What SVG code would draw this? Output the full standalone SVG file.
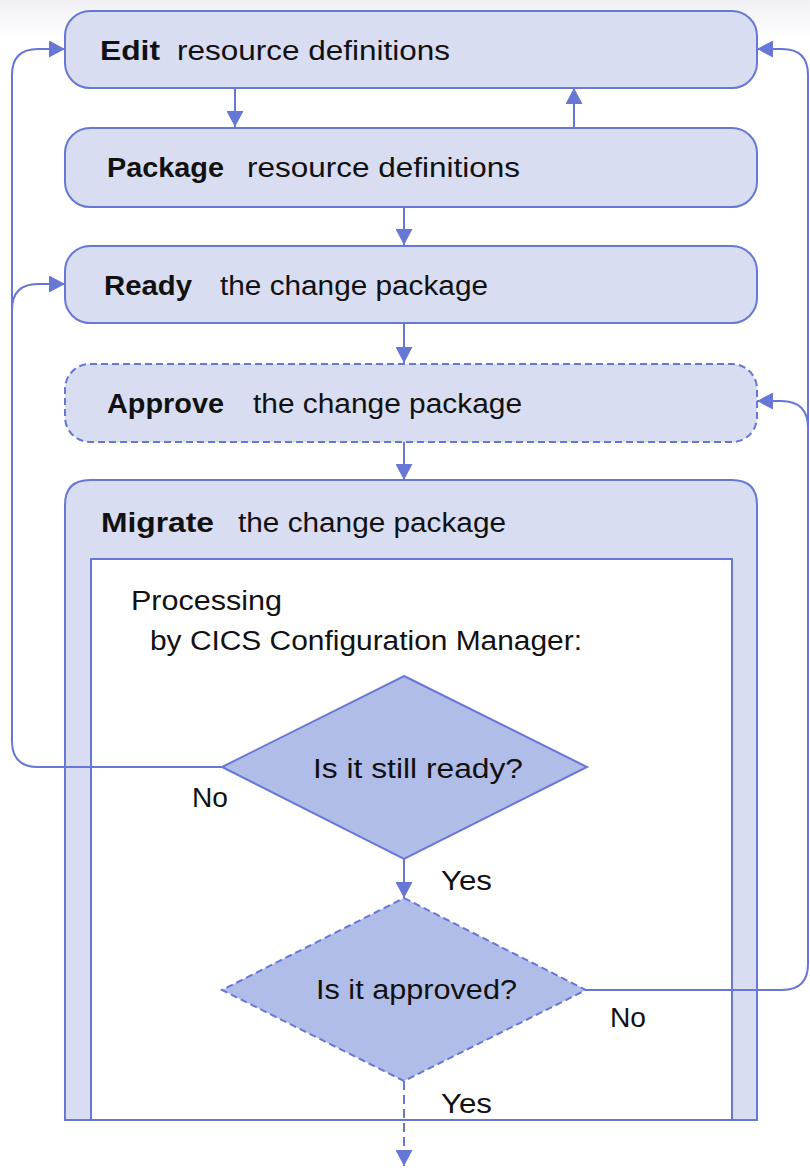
<svg xmlns="http://www.w3.org/2000/svg" width="810" height="1168" viewBox="0 0 810 1168">
<defs>
<linearGradient id="topfade" x1="0" y1="0" x2="0" y2="1">
<stop offset="0" stop-color="#f1f1f5"/>
<stop offset="1" stop-color="#ffffff"/>
</linearGradient>
<marker id="arr" markerUnits="userSpaceOnUse" markerWidth="17" markerHeight="17" refX="16" refY="8.5" orient="auto" viewBox="0 0 17 17">
<path d="M0,0 L16,8.5 L0,17 Z" fill="#6677d6" stroke="none"/>
</marker>
<style>
.box{fill:#d9ddf2;stroke:#6677d6;stroke-width:2}
.dash{stroke-dasharray:7 4}
.ldash{stroke-dasharray:9 5}
.dia{fill:#b1bde9;stroke:#6677d6;stroke-width:2}
.inner{fill:#ffffff;stroke:#6677d6;stroke-width:2}
.con{fill:none;stroke:#6677d6;stroke-width:2}
text{font-family:"Liberation Sans",Arial,sans-serif;font-size:27px;fill:#111}
.b{font-weight:bold}
</style>
</defs>
<rect x="0" y="0" width="810" height="40" fill="url(#topfade)"/>

<g id="edit">
<rect class="box" x="65" y="11" width="692" height="77" rx="25"/>
<text x="100" y="60" class="b" textLength="60" lengthAdjust="spacingAndGlyphs">Edit</text>
<text x="177" y="60" textLength="273" lengthAdjust="spacingAndGlyphs">resource definitions</text>
</g>

<g id="package">
<rect class="box" x="65" y="128" width="692" height="79" rx="25"/>
<text x="107" y="177" class="b" textLength="117" lengthAdjust="spacingAndGlyphs">Package</text>
<text x="247" y="177" textLength="273" lengthAdjust="spacingAndGlyphs">resource definitions</text>
</g>

<g id="ready">
<rect class="box" x="65" y="246" width="692" height="77" rx="25"/>
<text x="104" y="295" class="b" textLength="88" lengthAdjust="spacingAndGlyphs">Ready</text>
<text x="220" y="295" textLength="268" lengthAdjust="spacingAndGlyphs">the change package</text>
</g>

<g id="approve">
<rect class="box dash" x="65" y="364" width="692" height="78" rx="25"/>
<text x="107" y="413" class="b" textLength="117" lengthAdjust="spacingAndGlyphs">Approve</text>
<text x="253" y="413" textLength="269" lengthAdjust="spacingAndGlyphs">the change package</text>
</g>

<g id="migrate">
<path class="box" d="M65,505 Q65,480 90,480 H732 Q757,480 757,505 V1120 H65 Z"/>
<text x="101" y="532" class="b" textLength="113" lengthAdjust="spacingAndGlyphs">Migrate</text>
<text x="238" y="532" textLength="268" lengthAdjust="spacingAndGlyphs">the change package</text>
<rect class="inner" x="91" y="559" width="641" height="561"/>
<text x="131" y="610" textLength="151" lengthAdjust="spacingAndGlyphs">Processing</text>
<text x="150" y="650" textLength="432" lengthAdjust="spacingAndGlyphs">by CICS Configuration Manager:</text>
</g>

<g id="ready-check">
<polygon class="dia" points="404,676 587,767 404,859 222,767"/>
<text x="313" y="778" textLength="210" lengthAdjust="spacingAndGlyphs">Is it still ready?</text>
</g>

<g id="approved-check">
<polygon class="dia dash" points="404,898 586,990 404,1081 222,990"/>
<text x="316" y="999" textLength="201" lengthAdjust="spacingAndGlyphs">Is it approved?</text>
</g>

<g id="connectors">
<path class="con" d="M235,88 V127" marker-end="url(#arr)"/>
<path class="con" d="M574,127 V88" marker-end="url(#arr)"/>
<path class="con" d="M404,207 V245" marker-end="url(#arr)"/>
<path class="con" d="M404,323 V363" marker-end="url(#arr)"/>
<path class="con" d="M404,442 V480" marker-end="url(#arr)"/>
<path class="con" d="M222,767 H38 Q12,767 12,741 V75 Q12,49 38,49 H65" marker-end="url(#arr)"/>
<path class="con" d="M12,310 Q12,284 38,284 H65" marker-end="url(#arr)"/>
<path class="con" d="M586,990 H782 Q808,990 808,964 V75 Q808,49 782,49 H757" marker-end="url(#arr)"/>
<path class="con" d="M808,428 Q808,401 781,401 H757" marker-end="url(#arr)"/>
<path class="con" d="M404,859 V898" marker-end="url(#arr)"/>
<path class="con ldash" d="M404,1081 V1166" marker-end="url(#arr)"/>
<text x="192" y="807" textLength="36" lengthAdjust="spacingAndGlyphs">No</text>
<text x="441" y="890" textLength="51" lengthAdjust="spacingAndGlyphs">Yes</text>
<text x="610" y="1027" textLength="36" lengthAdjust="spacingAndGlyphs">No</text>
<text x="441" y="1113" textLength="51" lengthAdjust="spacingAndGlyphs">Yes</text>
</g>
</svg>
